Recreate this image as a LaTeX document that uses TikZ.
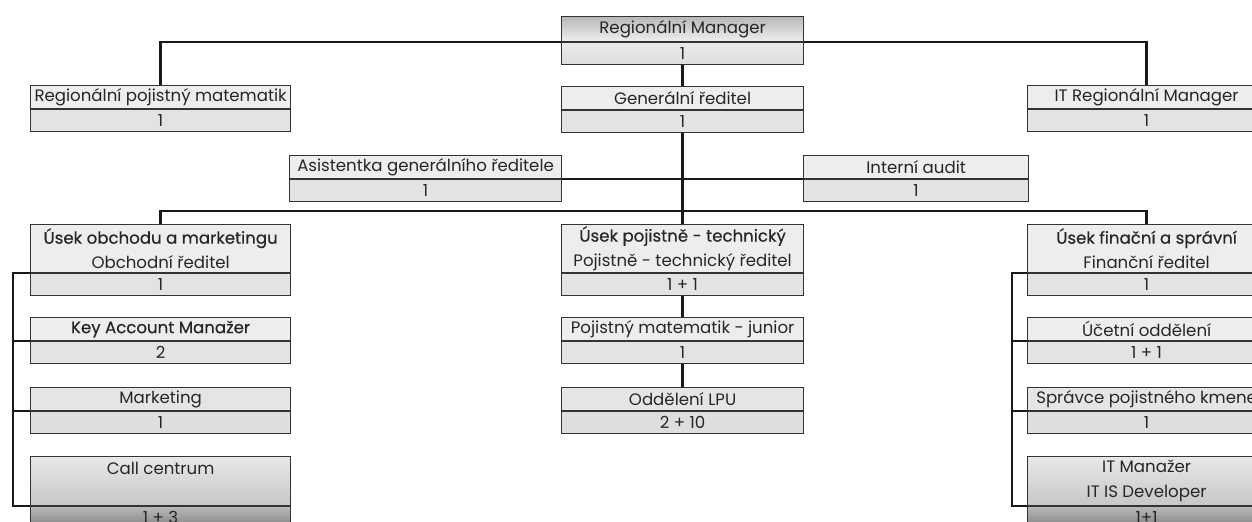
\documentclass[tikz,border=0pt]{standalone}
\usepackage{fontspec}
\setmainfont{Poppins}
\newfontfamily\headfont[FakeBold=0.4]{Poppins}
\usepackage{tikz}

\begin{document}
\begin{tikzpicture}[x=0.5pt, y=-0.5pt,
    box/.style={rectangle, draw=black!80, line width=0.6pt, anchor=north west, inner sep=0pt,
        text=black!85, font=\fontsize{8.3}{12.5}\selectfont, align=center},
    ttl/.style={box, fill=black!7, minimum height=11.5pt},
    cnt/.style={box, fill=black!11, minimum height=11pt},
    tall/.style={minimum height=24pt},
    dark/.style={top color=black!9, bottom color=black!22},
    darkn/.style={top color=black!28, bottom color=black!50},
    wL/.style={minimum width=130pt},
    wM/.style={minimum width=121pt},
    wR/.style={minimum width=119pt},
    wA/.style={minimum width=136pt},
    wI/.style={minimum width=112.5pt},
    link/.style={line width=1.3pt, black!90}]
    \useasboundingbox (0,0) rectangle (1252,522);
    \clip (0,0) rectangle (1252,522);

    % Nodes
    \node[ttl, wM, minimum height=12.5pt, top color=black!28, bottom color=black!6] (rm) at (561,16) {Regionální Manager};
    \node[cnt, wM, top color=black!8, bottom color=black!13] (rm-n) at (rm.south west) {1};

    \node[ttl, wL] (rpm) at (30,85) {Regionální pojistný matematik};
    \node[cnt, wL] (rpm-n) at (rpm.south west) {1};
    \node[ttl, wM] (gr) at (561,86) {Generální ředitel};
    \node[cnt, wM] (gr-n) at (gr.south west) {1};
    \node[ttl, wR] (itrm) at (1027,85) {IT Regionální Manager};
    \node[cnt, wR] (itrm-n) at (itrm.south west) {1};

    \node[ttl, wA] (asist) at (289,155) {Asistentka generálního ředitele};
    \node[cnt, wA] (asist-n) at (asist.south west) {1};
    \node[ttl, wI] (audit) at (803,155) {Interní audit};
    \node[cnt, wI] (audit-n) at (audit.south west) {1};

    \node[ttl, wL, tall] (uom) at (30,224) {{\headfont Úsek obchodu a marketingu}\\Obchodní ředitel};
    \node[cnt, wL] (uom-n) at (uom.south west) {1};
    \node[ttl, wM, tall] (upt) at (561,224) {{\headfont Úsek pojistně - technický}\\Pojistně - technický ředitel};
    \node[cnt, wM] (upt-n) at (upt.south west) {1 + 1};
    \node[ttl, wR, tall] (ufs) at (1027,224) {{\headfont Úsek finační a správní}\\Finanční ředitel};
    \node[cnt, wR] (ufs-n) at (ufs.south west) {1};

    \node[ttl, wL] (kam) at (30,317) {{\headfont Key Account Manažer}};
    \node[cnt, wL] (kam-n) at (kam.south west) {2};
    \node[ttl, wM] (pmj) at (561,317) {Pojistný matematik - junior};
    \node[cnt, wM] (pmj-n) at (pmj.south west) {1};
    \node[ttl, wR] (uo) at (1027,317) {Účetní oddělení};
    \node[cnt, wR] (uo-n) at (uo.south west) {1 + 1};

    \node[ttl, wL, fill=black!10] (mkt) at (30,387) {Marketing};
    \node[cnt, wL, fill=black!13] (mkt-n) at (mkt.south west) {1};
    \node[ttl, wM, fill=black!10] (lpu) at (561,387) {Oddělení LPU};
    \node[cnt, wM, fill=black!13] (lpu-n) at (lpu.south west) {2 + 10};
    \node[ttl, wR, fill=black!10] (spk) at (1027,387) {Správce pojistného kmene};
    \node[cnt, wR, fill=black!13] (spk-n) at (spk.south west) {1};

    \node[ttl, wL, minimum height=24.5pt, dark] (cc) at (30,456) {Call centrum\\~};
    \node[cnt, wL, darkn] (cc-n) at (cc.south west) {1 + 3};
    \node[ttl, wR, minimum height=24.5pt, dark] (itm) at (1027,456) {IT Manažer\\IT IS Developer};
    \node[cnt, wR, darkn] (itm-n) at (itm.south west) {1+1};

    % Edges
    \draw[link] (rm.south west) -| (rpm.north);
    \draw[link] (rm.south east) -| (itrm.north);
    \draw[link] (rm-n.south) -- (gr.north);
    \draw[link] (gr-n.south) -- (upt.north);
    \draw[link] (asist.south east) -- (audit.south west);
    \draw[link] (uom.north) -- ++(0,-13) -| (ufs.north);
    \draw[link] (upt-n.south) -- (pmj.north);
    \draw[link] (pmj-n.south) -- (lpu.north);

    \coordinate (lbar) at (13,0);
    \coordinate (rbar) at (1012,0);
    \draw[link] (uom.south west) -| (lbar |- cc.south west) -- (cc.south west);
    \draw[link] (ufs.south west) -| (rbar |- itm.south west) -- (itm.south west);
    \foreach \n in {kam,mkt}
        \draw[link] (\n.south west) -- (lbar |- \n.south west);
    \foreach \n in {uo,spk}
        \draw[link] (\n.south west) -- (rbar |- \n.south west);
\end{tikzpicture}
\end{document}
